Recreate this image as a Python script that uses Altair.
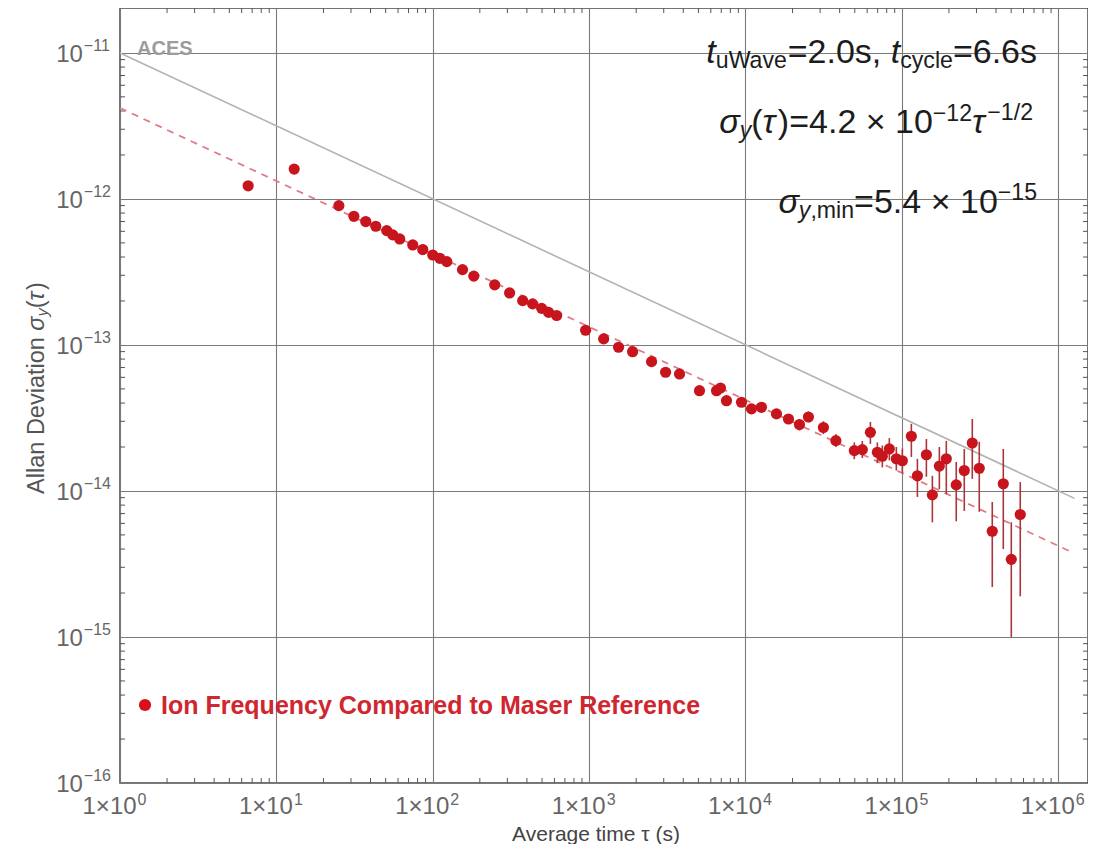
import altair as alt
import pandas as pd

# ---------------- data ----------------
tau = [6.6, 13, 25.1, 31.3, 37.3, 43.2, 50.8, 55.5, 61.5, 74.5,
       86.3, 100, 111, 123, 155, 183, 249, 310, 376, 435,
       497, 551, 620, 950, 1239, 1543, 1897, 2508, 3083, 3787,
       5080, 6530, 6920, 7560, 9430, 10920, 12650, 15780, 18830, 22130,
       25270, 31500, 37850, 49660, 55860, 62920, 69700, 75020, 83150, 92190,
       100700, 115000, 125700, 143500, 156700, 173700, 192400, 222700, 250700, 282100,
       312600, 378600, 445300, 500900, 571600]
sigma = [1.23e-12, 1.60e-12, 9.0e-13, 7.6e-13, 7.0e-13, 6.5e-13, 6.07e-13, 5.67e-13, 5.32e-13, 4.84e-13,
         4.50e-13, 4.13e-13, 3.92e-13, 3.72e-13, 3.28e-13, 2.96e-13, 2.58e-13, 2.27e-13, 2.01e-13, 1.91e-13,
         1.78e-13, 1.67e-13, 1.59e-13, 1.26e-13, 1.10e-13, 9.64e-14, 8.99e-14, 7.69e-14, 6.50e-14, 6.33e-14,
         4.86e-14, 4.86e-14, 5.07e-14, 4.15e-14, 4.05e-14, 3.65e-14, 3.74e-14, 3.37e-14, 3.11e-14, 2.85e-14,
         3.21e-14, 2.72e-14, 2.21e-14, 1.89e-14, 1.92e-14, 2.52e-14, 1.84e-14, 1.73e-14, 1.94e-14, 1.66e-14,
         1.61e-14, 2.37e-14, 1.27e-14, 1.77e-14, 9.4e-15, 1.48e-14, 1.66e-14, 1.10e-14, 1.38e-14, 2.13e-14,
         1.43e-14, 5.3e-15, 1.12e-14, 3.4e-15, 6.9e-15]

# error bars (visible for the long averaging times)
eb_tau = [10920, 12650, 15780, 18830, 22130, 25270, 31500, 37850, 49660, 55860,
          62920, 69700, 75020, 83150, 92190, 100700, 115000, 125700, 143500, 156700,
          173700, 192400, 222700, 250700, 282100, 312600, 378600, 445300, 500900, 571600]
eb_hi = [3.9e-14, 4.0e-14, 3.6e-14, 3.35e-14, 3.1e-14, 3.5e-14, 3.0e-14, 2.45e-14, 2.15e-14, 2.2e-14,
         2.97e-14, 2.15e-14, 2.05e-14, 2.3e-14, 2.0e-14, 1.95e-14, 2.88e-14, 1.66e-14, 2.27e-14, 1.27e-14,
         2.0e-14, 2.2e-14, 1.58e-14, 1.94e-14, 3.11e-14, 2.17e-14, 8.4e-15, 1.94e-14, 6.1e-15, 1.15e-14]
eb_lo = [3.4e-14, 3.5e-14, 3.15e-14, 2.9e-14, 2.6e-14, 2.95e-14, 2.45e-14, 2.0e-14, 1.65e-14, 1.68e-14,
         2.10e-14, 1.55e-14, 1.45e-14, 1.62e-14, 1.38e-14, 1.32e-14, 1.71e-14, 9.1e-15, 1.25e-14, 6.1e-15,
         1.03e-14, 9.5e-15, 6.2e-15, 7.3e-15, 1.21e-14, 7.2e-15, 2.2e-15, 4.0e-15, 1.0e-15, 1.9e-15]

# reference lines (end points)
aces_tau = [1, 1.27e6]
aces_sigma = [1e-11, 8.9e-15]
fit_tau = [1, 1.23e6]
fit_sigma = [4.2e-12, 3.79e-15]

# tick labels: mantissa part and exponent part
x_ticks = [1, 10, 100, 1000, 10000, 100000, 1000000]
x_label_base = ["1×10"] * 7
x_label_exp = ["0", "1", "2", "3", "4", "5", "6"]
y_ticks = [1e-16, 1e-15, 1e-14, 1e-13, 1e-12, 1e-11]
y_label_base = ["10"] * 6
y_label_exp = ["−16", "−15", "−14", "−13", "−12", "−11"]

legend_text = "Ion Frequency Compared to Maser Reference"

# ---------------- layout ----------------
W, H = 968, 775
XDOM = [1, 1.55e6]
YDOM = [1e-16, 2.03e-11]
FONT = "Liberation Sans"
RED = "#c8141d"
LABC = "#666"

xs = alt.Scale(type="log", domain=XDOM, nice=False)
ys = alt.Scale(type="log", domain=YDOM, nice=False)

pts = pd.DataFrame({"tau": tau, "sigma": sigma})
ebs = pd.DataFrame({"tau": eb_tau, "lo": eb_lo, "hi": eb_hi})
aces = pd.DataFrame({"tau": aces_tau, "sigma": aces_sigma})
fit = pd.DataFrame({"tau": fit_tau, "sigma": fit_sigma})
xl = pd.DataFrame({"v": x_ticks, "base": x_label_base, "exp": x_label_exp})
yl = pd.DataFrame({"v": y_ticks, "base": y_label_base, "exp": y_label_exp})

x_axis = alt.Axis(values=x_ticks, labels=False, title=None, grid=True, ticks=False,
                  domain=False, gridColor="#7a7a7a", gridWidth=1.1)
y_axis = alt.Axis(values=y_ticks, labels=False, title=None, grid=True, ticks=False,
                  domain=False, gridColor="#7a7a7a", gridWidth=1.1)


def X(field):
    return alt.X(field, scale=xs, axis=x_axis)


def Y(field):
    return alt.Y(field, scale=ys, axis=y_axis)


# minor tick marks on all four sides (Mathematica frame style)
xt = []
for k in range(0, 7):
    for m in range(2, 10):
        v = m * 10 ** k
        if v < XDOM[1]:
            xt.append({"v": float(v)})
yt = []
for k in range(-16, -10):
    for m in range(2, 10):
        v = m * 10.0 ** k
        if v < YDOM[1] * 0.98:
            yt.append({"v": v})
xt_df = pd.DataFrame(xt)
yt_df = pd.DataFrame(yt)
TICK = "#555"

ticks_bottom = alt.Chart(xt_df).mark_rule(color=TICK, strokeWidth=1).encode(
    x=X("v:Q"), y=alt.value(H), y2=alt.value(H - 5))
ticks_top = alt.Chart(xt_df).mark_rule(color=TICK, strokeWidth=1).encode(
    x=X("v:Q"), y=alt.value(0), y2=alt.value(5))
ticks_left = alt.Chart(yt_df).mark_rule(color=TICK, strokeWidth=1).encode(
    y=Y("v:Q"), x=alt.value(0), x2=alt.value(5))
ticks_right = alt.Chart(yt_df).mark_rule(color=TICK, strokeWidth=1).encode(
    y=Y("v:Q"), x=alt.value(W), x2=alt.value(W - 5))

# tick labels as text (mantissa + raised exponent)
LS, ES = 24, 16
x_base_w = (0.556 + 0.584 + 1.112) * LS
x_exp_w = 0.556 * ES
x_shift = x_base_w - (x_base_w + x_exp_w) / 2 - 6
xlab_base = alt.Chart(xl).mark_text(align="right", baseline="alphabetic", font=FONT, fontSize=LS,
                                    color=LABC, dx=x_shift).encode(
    x=X("v:Q"), y=alt.value(H + 31), text="base:N")
xlab_exp = alt.Chart(xl).mark_text(align="left", baseline="alphabetic", font=FONT, fontSize=ES,
                                   color=LABC, dx=x_shift + 1).encode(
    x=X("v:Q"), y=alt.value(H + 22), text="exp:N")
y_exp_w = (0.584 + 1.112) * ES
ylab_base = alt.Chart(yl).mark_text(align="right", baseline="alphabetic", font=FONT, fontSize=LS,
                                    color=LABC, dx=-(10 + y_exp_w), dy=9).encode(
    x=alt.value(0), y=Y("v:Q"), text="base:N")
ylab_exp = alt.Chart(yl).mark_text(align="left", baseline="alphabetic", font=FONT, fontSize=ES,
                                   color=LABC, dx=-(9 + y_exp_w), dy=-2).encode(
    x=alt.value(0), y=Y("v:Q"), text="exp:N")

aces_line = alt.Chart(aces).mark_line(color="#b3b3b3", strokeWidth=1.6).encode(
    x=X("tau:Q"), y=Y("sigma:Q"))
fit_line = alt.Chart(fit).mark_line(color="#e27a86", strokeWidth=1.7, strokeDash=[7, 6]).encode(
    x=X("tau:Q"), y=Y("sigma:Q"))

err = alt.Chart(ebs).mark_rule(color="#a8363b", strokeWidth=1.6).encode(
    x=X("tau:Q"), y=Y("lo:Q"), y2="hi:Q")

dots = alt.Chart(pts).mark_circle(size=125, color=RED, opacity=1).encode(
    x=X("tau:Q"), y=Y("sigma:Q"))

one = pd.DataFrame({"d": [0]})

# ---------------- rich text helpers ----------------
WT = {' ': .278, ',': .278, '.': .278, '/': .278, '=': .584, '×': .584, '−': .584,
      '(': .333, ')': .333, 'a': .556, 'c': .5, 'e': .556, 'i': .222, 'l': .222,
      'm': .833, 'n': .556, 's': .5, 't': .278, 'u': .556, 'v': .5, 'y': .5, 'W': .944,
      'σ': .6, 'τ': .45, 'A': .667, 'D': .722, 'o': .556, 'r': .333, 'g': .556}


def tw(t, size):
    return sum(WT.get(c, .556) for c in t) * size


def rich(segs, S, x_right, base_y, color="#1c1c1c"):
    total = sum(tw(t, S * f) for t, f, dy, it in segs)
    x = x_right - total
    layers = []
    for t, f, dy, it in segs:
        layers.append(alt.Chart(one).mark_text(
            align="left", baseline="alphabetic", font=FONT, fontSize=S * f,
            fontStyle="italic" if it else "normal", color=color,
            x=x, y=base_y + dy * S).encode(text=alt.value(t)))
        x += tw(t, S * f)
    return layers


S = 34
SUB, SUP, F = 0.14, -0.34, 0.68
line1 = rich([("t", 1, 0, True), ("uWave", F, SUB, False), ("=2.0s, ", 1, 0, False),
              ("t", 1, 0, True), ("cycle", F, SUB, False), ("=6.6s", 1, 0, False)],
             S, 917, 55)
line2 = rich([("σ", 1, 0, True), ("y", F, SUB, True), ("(", 1, 0, False), ("τ", 1, 0, True),
              (")=4.2 × 10", 1, 0, False), ("−12", F, SUP, False), ("τ", 1, 0, True),
              ("−1/2", F, SUP - 0.05, False)],
             S, 913, 125)
line3 = rich([("σ", 1, 0, True), ("y", F, SUB, True), (",min", F, SUB, False),
              ("=5.4 × 10", 1, 0, False), ("−15", F, SUP - 0.05, False)],
             S, 917, 205)

aces_lbl = alt.Chart(one).mark_text(align="left", baseline="alphabetic", font=FONT, fontSize=20,
                                    fontWeight="bold", color="#9c9c9c", x=17, y=47).encode(
    text=alt.value("ACES"))

leg_dot = alt.Chart(one).mark_circle(size=150, color="#d7101c", opacity=1).encode(
    x=alt.value(25), y=alt.value(697))
leg_txt = alt.Chart(one).mark_text(align="left", baseline="middle", font=FONT, fontSize=25,
                                   fontWeight="bold", color="#d0262f", x=41, y=698).encode(
    text=alt.value(legend_text))

# x axis title
x_title = alt.Chart(one).mark_text(align="center", baseline="middle", font=FONT, fontSize=21,
                                   color="#444", x=476, y=827).encode(
    text=alt.value("Average time τ (s)"))

# y axis title, rotated, built from pieces (bottom to top)
YS = 23.5
y_segs = [("Allan Deviation ", 1, 0, False), ("σ", 1, 0, True), ("y", 0.7, 0.16, True),
          ("(", 1, 0, False), ("τ", 1, 0, True), (")", 1, 0, False)]
y_total = sum(tw(t, YS * f) for t, f, d, i in y_segs)
yy = 380 + y_total / 2
ytitle_layers = []
for t, f, d, it in y_segs:
    ytitle_layers.append(alt.Chart(one).mark_text(
        align="left", baseline="alphabetic", font=FONT, fontSize=YS * f, angle=270,
        fontStyle="italic" if it else "normal", color="#555",
        x=-76 + d * YS, y=yy).encode(text=alt.value(t)))
    yy -= tw(t, YS * f)

chart = alt.layer(
    ticks_bottom, ticks_top, ticks_left, ticks_right,
    xlab_base, xlab_exp, ylab_base, ylab_exp,
    aces_line, fit_line, err, dots,
    aces_lbl, leg_dot, leg_txt, x_title,
    *line1, *line2, *line3, *ytitle_layers
).properties(
    width=W, height=H,
    padding={"left": 112, "top": 0, "right": 0, "bottom": 61},
    autosize=alt.AutoSizeParams(type="none"),
    background="white",
).configure_view(stroke="#474747", strokeWidth=1.5)

chart.save("out.html", embed_options={"renderer": "svg", "actions": False})
